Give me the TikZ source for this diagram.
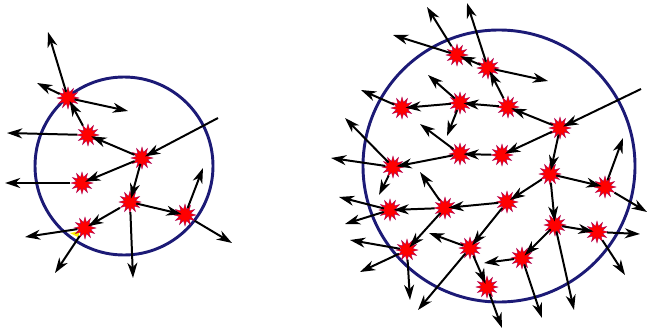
\documentclass[tikz,border=0pt]{standalone}
\usetikzlibrary{arrows.meta,shapes.geometric}
\definecolor{navy}{RGB}{28,26,118}
\begin{document}
\begin{tikzpicture}[x=0.03cm,y=-0.03cm,>={Stealth[length=13pt,width=8.5pt,inset=4pt]},
  burst/.style={star,star points=12,star point ratio=1.9,minimum size=0.66cm,inner sep=0pt,fill=red,draw=violet!70!red,line width=0.3pt},
  flux/.style={->,line width=1.7pt,shorten >=3pt},
  spray/.style={->,line width=1.7pt},
  rim/.style={draw=navy,fill=white,line width=2.5pt}]
\useasboundingbox (0,0) rectangle (648,335);
\draw[rim] (124,166) circle[radius=89];
\draw[rim] (499,166) circle[radius=136];
\fill[yellow] (70,233) -- (80,231) -- (78,237) -- cycle;
\foreach \n/\x/\y in {l1/68/98,l2/88/135,l3/142/158,l4/82/183,l5/130/202,l6/85/228,l7/185/215,
  r1/457/55,r2/488/68,r3/402/108,r4/460/103,r5/508/107,r6/560/128,r7/460/154,r8/502/155,
  r9/393/167,r10/550/174,r11/605/187,r12/390/210,r13/445/208,r14/507/202,r15/555/225,
  r16/597/232,r17/407/250,r18/470/248,r19/522/258,r20/487/287}
  \node[burst] (\n) at (\x,\y) {};
\foreach \n/\x/\y in {la/48/32,lb/37/83,lc/128/111,ld/7/133,le/218/118,lf/5/183,lg/133/278,
  lh/25/237,li/55/273,lj/203/168,lk/232/243,
  ra/427/7,rb/393/35,rc/467/3,rd/548/81,re/428/75,rf/447/136,rg/361/90,rh/420/124,
  ri/345/118,rj/331/158,rk/379/195,rl/339/197,rm/345/224,rn/420/172,ro/350/240,
  rp/360/272,rq/410/300,rr/418/310,rs/429/233,rt/623/138,ru/647/212,rv/640/234,
  rw/625/275,rx/574/310,ry/484/263,rz/542/318,rzz/502/328,rin/641/89}
  \coordinate (\n) at (\x,\y);
\foreach \a/\b in {l2/l1,l3/l2,l3/l4,l3/l5,l5/l6,l5/l7,
  r2/r1,r5/r2,r6/r5,r5/r4,r4/r3,r6/r8,r8/r7,r7/r9,r6/r10,r10/r11,r10/r14,r14/r13,
  r13/r12,r13/r17,r14/r18,r10/r15,r15/r16,r15/r19,r18/r20}
  \draw[flux] (\a) -- (\b.center);
\draw[flux] (le) -- (l3.center);
\draw[flux] (rin) -- (r6.center);
\foreach \a/\b in {l1/la,l1/lb,l1/lc,l2/ld,l4/lf,l5/lg,l6/lh,l6/li,l7/lj,l7/lk,
  r1/ra,r1/rb,r2/rc,r2/rd,r4/re,r4/rf,r3/rg,r7/rh,r9/ri,r9/rj,r9/rk,r12/rl,r12/rm,
  r13/rn,r17/ro,r17/rp,r17/rq,r18/rr,r18/rs,r11/rt,r11/ru,r16/rv,r16/rw,r15/rx,
  r19/ry,r19/rz,r20/rzz}
  \draw[spray] (\a) -- (\b);
\end{tikzpicture}
\end{document}
